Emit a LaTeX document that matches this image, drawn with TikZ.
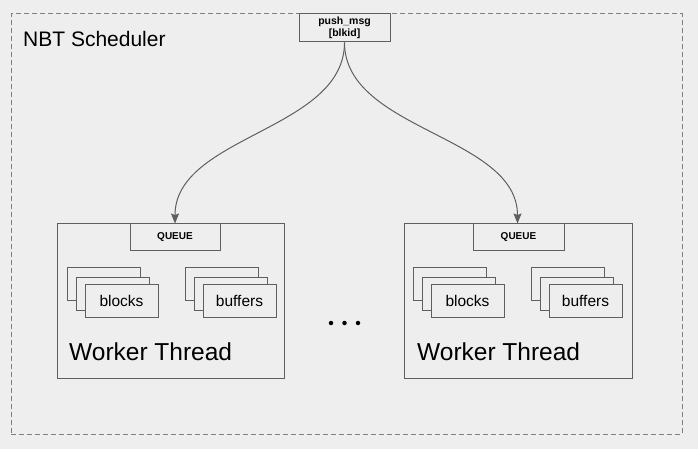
\documentclass[tikz,border=0pt]{standalone}
\usepackage{fontspec}
\setmainfont{Liberation Sans}
\usetikzlibrary{arrows.meta}
\definecolor{bg}{HTML}{EEEEEE}
\definecolor{ln}{HTML}{5F5F5F}
\begin{document}
\begin{tikzpicture}[x=1pt,y=-1pt,
  box/.style={draw=ln,fill=bg,line width=1pt,rectangle,inner sep=0pt,minimum width=73pt,minimum height=33pt},
  wbox/.style={draw=ln,fill=bg,line width=1pt,rectangle,inner sep=0pt,minimum height=155pt},
  qbox/.style={draw=ln,fill=bg,line width=1pt,rectangle,inner sep=0pt,minimum width=90pt,minimum height=27pt,font=\fontsize{10}{12}\selectfont\bfseries},
  lbl/.style={font=\fontsize{15.5}{18}\selectfont},
  wt/.style={font=\fontsize{24.5}{28}\selectfont,anchor=base west,inner sep=0pt},
  arr/.style={draw=ln,line width=1pt,-{Stealth[length=10pt,width=8pt,inset=1.5pt]}},
  dot/.style={circle,fill=black,inner sep=0pt,minimum size=4.5pt}]
\fill[bg] (0,0) rectangle (698,449);
\useasboundingbox (0,0) rectangle (698,449);
\node[draw=ln!80,line width=1pt,dash pattern=on 5pt off 3pt,rectangle,minimum width=671pt,minimum height=420pt,inner sep=0pt] (sched) at (346.5,224) {};
\node[anchor=base west,inner sep=0pt,font=\fontsize{21}{24}\selectfont] (schedlbl) at (23,47) {NBT Scheduler};
\node[draw=ln,fill=bg,line width=1pt,rectangle,inner sep=0pt,minimum width=91pt,minimum height=28pt,align=center,font=\fontsize{10.5}{12.5}\selectfont\bfseries] (push) at (344.5,28) {push\_msg\\{[blkid]}};
% left worker
\node[wbox,minimum width=227pt] (wL) at (170.5,300.5) {};
\node[qbox] (qL) at (175,236.5) {QUEUE};
\node[box] (bL1) at (103.5,283.5) {};
\node[box] (bL2) at (112.5,293.5) {};
\node[box,lbl] (bL3) at (121.5,300.5) {blocks};
\node[box] (fL1) at (221.5,283.5) {};
\node[box] (fL2) at (230.5,293.5) {};
\node[box,lbl] (fL3) at (239.5,300.5) {buffers};
\node[wt] (wtL) at (69,360) {Worker Thread};
% right worker
\node[wbox,minimum width=228pt] (wR) at (518,300.5) {};
\node[qbox,minimum width=91pt] (qR) at (518.5,236.5) {QUEUE};
\node[box] (bR1) at (449.5,283.5) {};
\node[box] (bR2) at (458.5,293.5) {};
\node[box,lbl] (bR3) at (467.5,300.5) {blocks};
\node[box] (fR1) at (567.5,283.5) {};
\node[box] (fR2) at (576.5,293.5) {};
\node[box,lbl] (fR3) at (585.5,300.5) {buffers};
\node[wt] (wtR) at (417,360) {Worker Thread};
% dots
\node[dot] (d1) at (331,323) {};
\node[dot] (d2) at (344.5,323) {};
\node[dot] (d3) at (358,323) {};
% arrows
\draw[arr] (push.south) .. controls +(0,88) and +(0,-88) .. ([yshift=-1pt]qL.north);
\draw[arr] (push.south) .. controls +(0,88) and +(0,-88) .. ([xshift=-1pt,yshift=-1pt]qR.north);
\end{tikzpicture}
\end{document}
